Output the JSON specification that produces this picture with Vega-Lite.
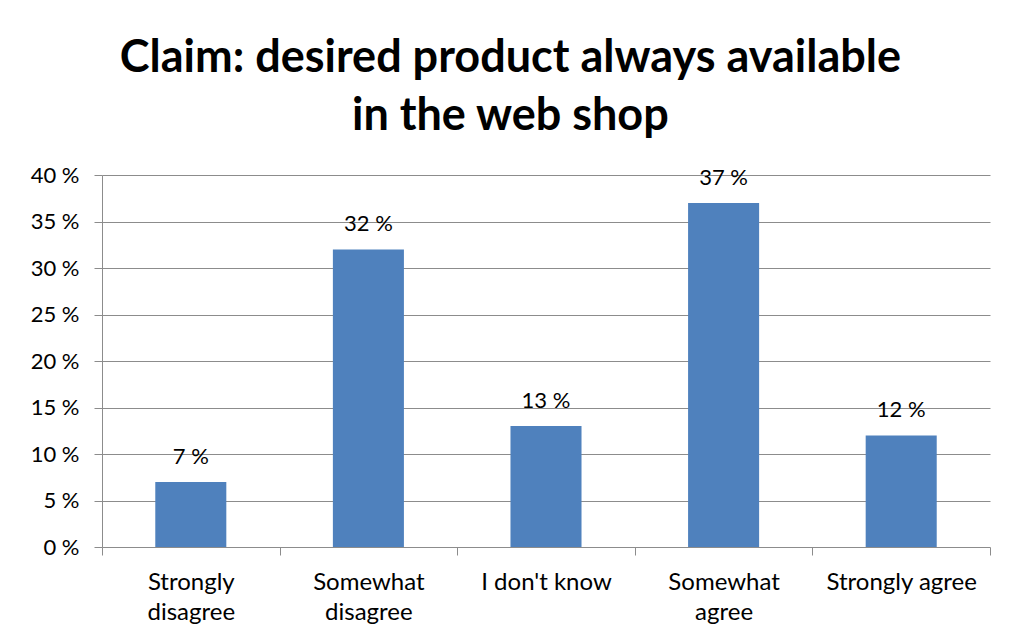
{
  "$schema": "https://vega.github.io/schema/vega-lite/v6.json",
  "width": 888,
  "height": 372,
  "autosize": {"type": "none"},
  "padding": {"left": 102, "top": 175, "right": 22, "bottom": 96},
  "background": "white",
  "title": {
    "text": ["Claim: desired product always available", "in the web shop"],
    "font": "Lato",
    "fontSize": 45,
    "fontWeight": "bold",
    "color": "black",
    "lineHeight": 58,
    "anchor": "middle",
    "frame": "bounds",
    "offset": 25
  },
  "data": {
    "values": [
      {"answer": "Strongly disagree", "share": 7, "label": "7 %"},
      {"answer": "Somewhat disagree", "share": 32, "label": "32 %"},
      {"answer": "I don't know", "share": 13, "label": "13 %"},
      {"answer": "Somewhat agree", "share": 37, "label": "37 %"},
      {"answer": "Strongly agree", "share": 12, "label": "12 %"}
    ]
  },
  "config": {
    "view": {"stroke": null},
    "axis": {
      "labelFont": "Lato",
      "labelColor": "black",
      "domainColor": "#8c8c8c",
      "tickColor": "#8c8c8c",
      "gridColor": "#8c8c8c",
      "titleFont": "Lato"
    }
  },
  "encoding": {
    "x": {
      "field": "answer",
      "type": "nominal",
      "sort": null,
      "scale": {"paddingInner": 0, "paddingOuter": 0},
      "axis": {
        "title": null,
        "labelAngle": 0,
        "labelFontSize": 24,
        "tickBand": "extent",
        "tickSize": 8,
        "labelPadding": 15,
        "labelLineHeight": 30,
        "domain": false,
        "labelExpr": "datum.value == null ? '' : (datum.value == 'I don\\'t know' || datum.value == 'Strongly agree' ? datum.value : split(datum.value, ' '))"
      }
    }
  },
  "layer": [
    {
      "mark": {"type": "bar", "color": "#4F81BD", "width": {"band": 0.4}},
      "encoding": {
        "y": {
          "field": "share",
          "type": "quantitative",
          "scale": {"domain": [0, 40], "nice": false},
          "axis": {
            "title": null,
            "values": [0, 5, 10, 15, 20, 25, 30, 35, 40],
            "grid": true,
            "tickSize": 8,
            "labelFontSize": 22,
            "labelPadding": 15,
            "labelExpr": "datum.value + ' %'"
          }
        }
      }
    },
    {
      "mark": {"type": "text", "font": "Lato", "fontSize": 22, "color": "black", "baseline": "alphabetic", "dy": -18},
      "encoding": {
        "y": {"field": "share", "type": "quantitative"},
        "text": {"field": "label", "type": "nominal"}
      }
    }
  ]
}
